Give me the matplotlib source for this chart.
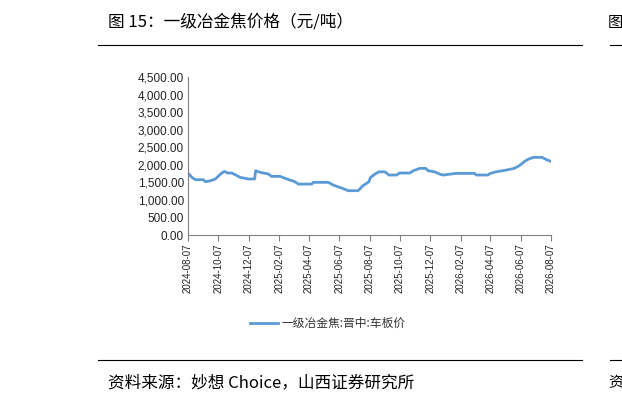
import matplotlib
matplotlib.use("Agg")
import matplotlib.pyplot as plt
import numpy as np
import pandas as pd

plt.rcParams['font.family'] = ['Noto Sans CJK SC', 'DejaVu Sans']

start = pd.Timestamp("2024-08-07")
day_offsets = [0, 8, 15, 31, 35, 45, 55, 62, 68, 73, 80, 88, 95, 105, 122, 134, 136, 145, 162, 168,
               185, 199, 215, 222, 249, 252, 282, 292, 305, 314, 322, 342, 352, 364, 367, 376, 384,
               396, 404, 420, 425, 446, 453, 466, 478, 483, 496, 506, 513, 539, 576, 580, 603, 608,
               620, 640, 656, 666, 677, 685, 695, 712, 721, 730]
prices = [1765, 1640, 1575, 1575, 1518, 1545, 1595, 1690, 1765, 1810, 1765, 1765, 1717, 1640, 1595,
          1595, 1830, 1785, 1735, 1670, 1670, 1595, 1518, 1450, 1450, 1500, 1500, 1423, 1357, 1310,
          1262, 1262, 1404, 1518, 1640, 1735, 1800, 1800, 1708, 1708, 1765, 1765, 1830, 1897, 1897,
          1830, 1800, 1735, 1708, 1755, 1755, 1708, 1708, 1755, 1800, 1850, 1897, 1973, 2096, 2163,
          2211, 2211, 2145, 2096]
tick_labels = ["2024-08-07", "2024-10-07", "2024-12-07", "2025-02-07", "2025-04-07", "2025-06-07",
               "2025-08-07", "2025-10-07", "2025-12-07", "2026-02-07", "2026-04-07", "2026-06-07",
               "2026-08-07"]
series_name = "一级冶金焦:晋中:车板价"

dates = [start + pd.Timedelta(days=d) for d in day_offsets]
W, H = 622, 409
fig = plt.figure(figsize=(W/100, H/100), dpi=100)
ax = fig.add_axes([188/W, 1-235/H, (551-188)/W, (235-77)/H])
ax.plot(dates, prices, color='#5B9BD5', lw=2)
ax.set_ylim(0, 4500)
ax.set_yticks(np.arange(0, 4501, 500))
ax.set_yticklabels([f"{v:,.2f}" for v in np.arange(0, 4501, 500)], fontsize=8.5,
                   family=['Liberation Sans'], color='#222222')
tdates = [pd.Timestamp(t) for t in tick_labels]
ax.set_xlim(tdates[0], tdates[-1])
ax.set_xticks(tdates)
ax.set_xticklabels(tick_labels, rotation=90, fontsize=7, family=['Liberation Sans'], color='#222222')
for s in ['top', 'right']:
    ax.spines[s].set_visible(False)
for s in ['left', 'bottom']:
    ax.spines[s].set_color('#808080')
ax.tick_params(axis='y', length=0, pad=3)
ax.tick_params(axis='x', length=4, color='#808080', direction='out', pad=2)

# legend
fig.add_artist(plt.Line2D([250/W, 278/W], [1-323/H]*2, color='#5B9BD5', lw=2))
fig.text(281/W, 1-323/H, series_name, fontsize=8.5, va='center', ha='left', color='#333333')

fig.text(108/W, 1-22/H, "图 15：一级冶金焦价格（元/吨）", fontsize=12, va='center', ha='left')
fig.add_artist(plt.Line2D([98/W, 582/W], [1-45/H]*2, color='black', lw=0.8))
fig.add_artist(plt.Line2D([98/W, 582/W], [1-360/H]*2, color='black', lw=0.8))
fig.add_artist(plt.Line2D([610/W, 1], [1-45/H]*2, color='black', lw=0.8))
fig.add_artist(plt.Line2D([610/W, 1], [1-360/H]*2, color='black', lw=0.8))
fig.text(108/W, 1-383/H, "资料来源：妙想 Choice，山西证券研究所", fontsize=12, va='center', ha='left')
fig.text(608/W, 1-22/H, "图", fontsize=11, va='center', ha='left')
fig.text(608/W, 1-383/H, "资", fontsize=11, va='center', ha='left')
fig.savefig("out.png", dpi=100)
